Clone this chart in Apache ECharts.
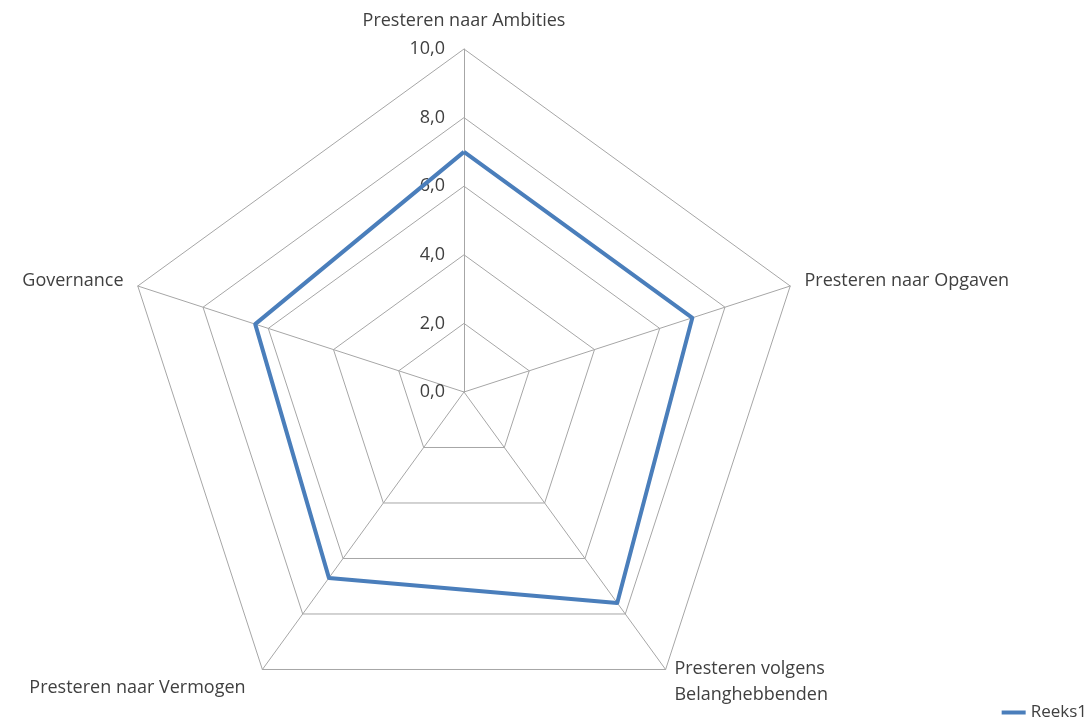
<!DOCTYPE html>
<html>
<head>
<meta charset="utf-8">
<script src="https://cdn.jsdelivr.net/npm/echarts@6/dist/echarts.min.js"></script>
<style>
html, body { margin: 0; padding: 0; background: #fff; }
#chart { width: 1089px; height: 726px; }
</style>
</head>
<body>
<div id="chart"></div>
<script>
// assen en waarden (met de klok mee, vanaf boven)
var categories = ['Presteren naar Ambities', 'Presteren naar Opgaven', 'Presteren volgens\nBelanghebbenden', 'Presteren naar Vermogen', 'Governance'];
var reeks1 = [7.0, 7.0, 7.6, 6.7, 6.4];
var seriesName = 'Reeks1';
var maxValue = 10;

var font = 'Open Sans';
var fontSize = 18;
// radar in echarts loopt tegen de klok in, dus volgorde omdraaien na de eerste
var order = [0, 4, 3, 2, 1];
var indicators = order.map(function(k, i) {
	var ind = {name: categories[k], min: 0, max: maxValue};
	if (i === 0) {
		ind.axisLabel = {show: true};
	}
	return ind;
});
var values = order.map(function(k) { return reeks1[k]; });

var myChart = echarts.init(document.getElementById('chart'));
var option = {
	animation: false,
	textStyle: {fontFamily: font},
	legend: {
		right: -3,
		bottom: 0,
		itemWidth: 24,
		itemHeight: 4,
		icon: 'rect',
		itemGap: 4,
		textStyle: {fontFamily: font, fontSize: 17, color: '#404040'},
		data: [seriesName]
	},
	radar: {
		center: [464, 392],
		radius: 343,
		startAngle: 90,
		splitNumber: 5,
		shape: 'polygon',
		nameGap: 15,
		axisName: {
			color: '#404040',
			fontFamily: font,
			fontSize: fontSize,
			lineHeight: 26,
			formatter: function(name) {
				if (name === 'Presteren naar Vermogen') {
					return '{v|' + name + '}';
				}
				return name;
			},
			rich: {
				v: {
					fontFamily: font,
					fontSize: fontSize,
					color: '#404040',
					padding: [12, 8, 0, 0]
				}
			}
		},
		axisLine: {lineStyle: {color: '#a6a6a6', width: 1}},
		splitLine: {lineStyle: {color: '#a6a6a6', width: 1}},
		splitArea: {show: false},
		axisTick: {show: false},
		axisLabel: {
			show: false,
			color: '#404040',
			fontFamily: font,
			fontSize: fontSize,
			margin: 19,
			formatter: function(v) {
				return v.toFixed(1).replace('.', ',');
			}
		},
		indicator: indicators
	},
	series: [{
		name: seriesName,
		type: 'radar',
		symbol: 'none',
		lineStyle: {color: '#4a7ebb', width: 4},
		itemStyle: {color: '#4a7ebb'},
		data: [{value: values, name: seriesName}]
	}]
};
myChart.setOption(option);
</script>
</body>
</html>
